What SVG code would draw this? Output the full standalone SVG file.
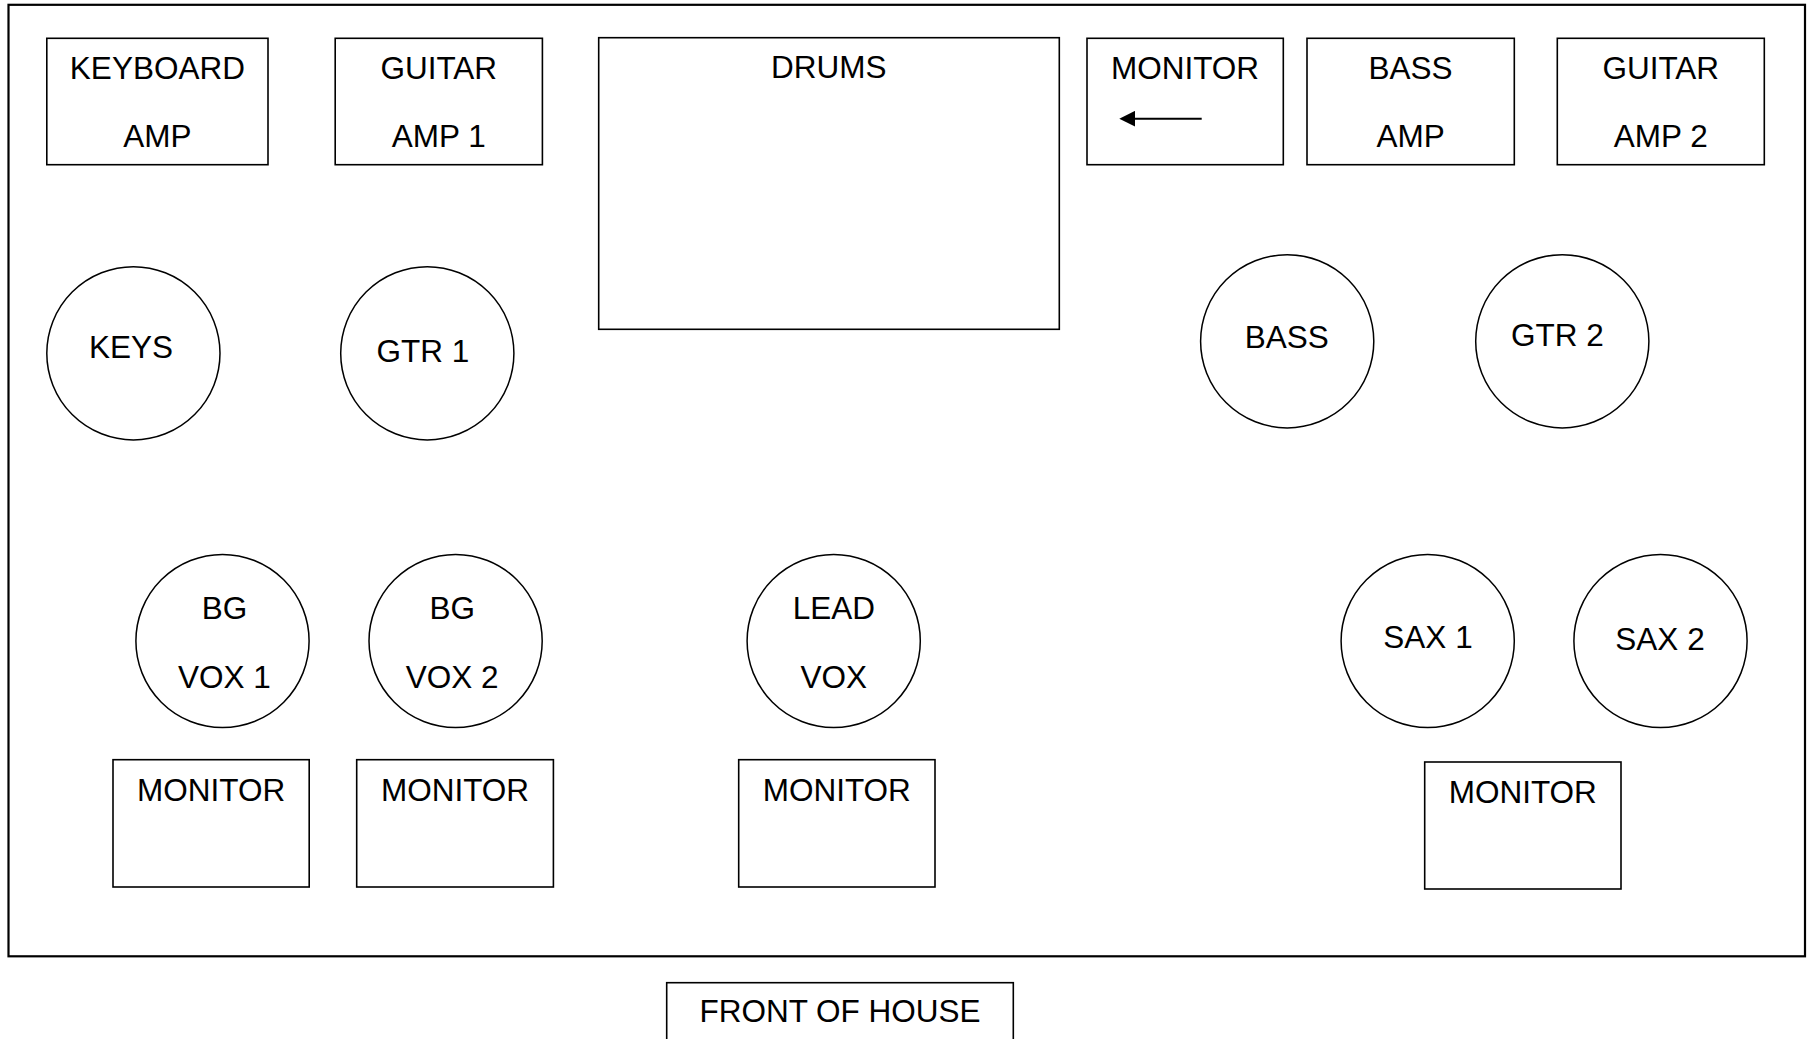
<svg xmlns="http://www.w3.org/2000/svg" width="1811" height="1039" viewBox="0 0 1811 1039">
  <style>
    .box { fill: #ffffff; stroke: #000000; stroke-width: 1.6; }
    .ring { fill: #ffffff; stroke: #000000; stroke-width: 1.5; }
    .stage { fill: #ffffff; stroke: #000000; stroke-width: 2.2; }
    .lbl { font-family: "Liberation Sans", Arial, sans-serif; font-size: 31.5px; fill: #000000; text-anchor: middle; }
    .conn { fill: none; stroke: #000000; stroke-width: 2; }
  </style>
  <defs>
    <marker id="arrowhead" markerUnits="userSpaceOnUse" markerWidth="16" markerHeight="16" refX="10" refY="8" orient="auto">
      <path d="M0,0 L16,8 L0,16 Z" fill="#000000"/>
    </marker>
  </defs>
  <rect width="1811" height="1039" fill="#ffffff"/>

  <g id="stage">
    <rect class="stage" x="8.5" y="4.8" width="1796.5" height="951.5"/>
  </g>

  <g id="keyboard-amp">
    <rect class="box" x="46.8" y="38.3" width="221.2" height="126.4"/>
    <text class="lbl" x="157.4" y="79.3">KEYBOARD</text>
    <text class="lbl" x="157.4" y="146.7">AMP</text>
  </g>
  <g id="guitar-amp-1">
    <rect class="box" x="335.2" y="38.3" width="207.2" height="126.4"/>
    <text class="lbl" x="438.8" y="79.3">GUITAR</text>
    <text class="lbl" x="438.8" y="146.7">AMP 1</text>
  </g>
  <g id="drums">
    <rect class="box" x="598.7" y="37.7" width="460.6" height="291.6"/>
    <text class="lbl" x="828.8" y="78.3">DRUMS</text>
  </g>
  <g id="monitor-top">
    <rect class="box" x="1087" y="38.3" width="196.3" height="126.4"/>
    <text class="lbl" x="1185" y="79.3">MONITOR</text>
  </g>
  <g id="bass-amp">
    <rect class="box" x="1307" y="38.3" width="207.3" height="126.4"/>
    <text class="lbl" x="1410.6" y="79.3">BASS</text>
    <text class="lbl" x="1410.6" y="146.7">AMP</text>
  </g>
  <g id="guitar-amp-2">
    <rect class="box" x="1557.3" y="38.3" width="207" height="126.4"/>
    <text class="lbl" x="1660.8" y="79.3">GUITAR</text>
    <text class="lbl" x="1660.8" y="146.7">AMP 2</text>
  </g>

  <g id="keys">
    <circle class="ring" cx="133.4" cy="353.3" r="86.6"/>
    <text class="lbl" x="131" y="358.3">KEYS</text>
  </g>
  <g id="gtr-1">
    <circle class="ring" cx="427.3" cy="353.3" r="86.6"/>
    <text class="lbl" x="423" y="361.7">GTR 1</text>
  </g>
  <g id="bass">
    <circle class="ring" cx="1287.2" cy="341.3" r="86.6"/>
    <text class="lbl" x="1286.7" y="347.7">BASS</text>
  </g>
  <g id="gtr-2">
    <circle class="ring" cx="1562.3" cy="341.3" r="86.6"/>
    <text class="lbl" x="1557.5" y="346">GTR 2</text>
  </g>

  <g id="bg-vox-1">
    <circle class="ring" cx="222.5" cy="641" r="86.6"/>
    <text class="lbl" x="224.5" y="619.3">BG</text>
    <text class="lbl" x="224.5" y="688.3">VOX 1</text>
  </g>
  <g id="bg-vox-2">
    <circle class="ring" cx="455.6" cy="641" r="86.6"/>
    <text class="lbl" x="452.2" y="619.3">BG</text>
    <text class="lbl" x="452.2" y="688.3">VOX 2</text>
  </g>
  <g id="lead-vox">
    <circle class="ring" cx="833.7" cy="641" r="86.6"/>
    <text class="lbl" x="833.8" y="619.3">LEAD</text>
    <text class="lbl" x="833.8" y="688.3">VOX</text>
  </g>
  <g id="sax-1">
    <circle class="ring" cx="1427.7" cy="641" r="86.6"/>
    <text class="lbl" x="1428" y="647.7">SAX 1</text>
  </g>
  <g id="sax-2">
    <circle class="ring" cx="1660.5" cy="641" r="86.6"/>
    <text class="lbl" x="1660" y="650">SAX 2</text>
  </g>

  <g id="monitor-bg-1">
    <rect class="box" x="113" y="759.7" width="196.2" height="127.3"/>
    <text class="lbl" x="211.1" y="800.7">MONITOR</text>
  </g>
  <g id="monitor-bg-2">
    <rect class="box" x="356.7" y="759.7" width="196.7" height="127.3"/>
    <text class="lbl" x="455" y="800.7">MONITOR</text>
  </g>
  <g id="monitor-lead">
    <rect class="box" x="738.7" y="759.7" width="196.3" height="127.3"/>
    <text class="lbl" x="836.8" y="800.7">MONITOR</text>
  </g>
  <g id="monitor-sax">
    <rect class="box" x="1424.7" y="762" width="196.3" height="127"/>
    <text class="lbl" x="1522.8" y="802.7">MONITOR</text>
  </g>

  <g id="front-of-house">
    <rect class="box" x="666.7" y="982.7" width="346.6" height="70"/>
    <text class="lbl" x="840" y="1021.7">FRONT OF HOUSE</text>
  </g>

  <g id="connectors">
    <line class="conn" x1="1201.7" y1="118.7" x2="1125.3" y2="118.7" marker-end="url(#arrowhead)"/>
  </g>
</svg>
